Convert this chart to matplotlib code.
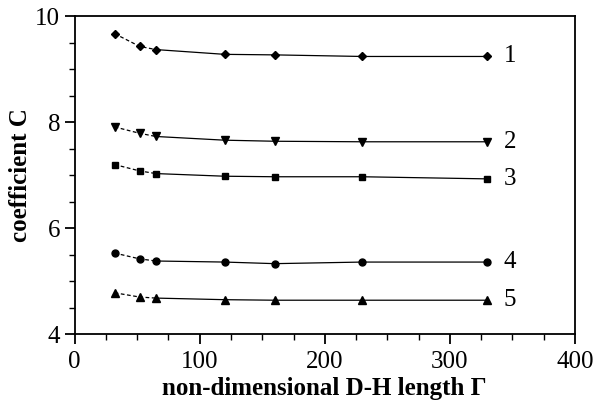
import matplotlib
matplotlib.use("Agg")
import matplotlib.pyplot as plt
from matplotlib.ticker import MultipleLocator

plt.rcParams["font.family"] = ["Liberation Serif", "DejaVu Serif"]

# data
gamma = [32, 52, 65, 120, 160, 230, 330]
c1 = [9.67, 9.43, 9.37, 9.28, 9.27, 9.24, 9.24]
c2 = [7.91, 7.79, 7.73, 7.66, 7.64, 7.63, 7.63]
c3 = [7.20, 7.08, 7.03, 6.98, 6.97, 6.97, 6.93]
c4 = [5.53, 5.42, 5.38, 5.36, 5.33, 5.36, 5.36]
c5 = [4.78, 4.70, 4.68, 4.65, 4.64, 4.64, 4.64]
series = [c1, c2, c3, c4, c5]
names = ["1", "2", "3", "4", "5"]
markers = ["D", "v", "s", "o", "^"]
msizes = [4.5, 6, 4, 5, 6]

fig = plt.figure(figsize=(5.97, 4.05), dpi=100)
ax = fig.add_axes([0.125, 0.175, 0.838, 0.785])

for y, name, m, ms in zip(series, names, markers, msizes):
    # first segments dashed, rest solid
    ax.plot(gamma[:3], y[:3], color="black", lw=0.9, ls=(0, (3, 2)))
    ax.plot(gamma[2:], y[2:], color="black", lw=0.9, ls="-")
    ax.plot(gamma, y, ls="none", marker=m, ms=ms, color="black")
    ax.text(gamma[-1] + 13, y[-1], name, fontsize=18, va="center", ha="left")

ax.set_xlim(0, 400)
ax.set_ylim(4, 10)
ax.xaxis.set_major_locator(MultipleLocator(100))
ax.xaxis.set_minor_locator(MultipleLocator(25))
ax.yaxis.set_major_locator(MultipleLocator(2))
ax.yaxis.set_minor_locator(MultipleLocator(0.5))
ax.tick_params(which="major", length=7, width=1.3, labelsize=18, direction="out")
ax.tick_params(which="minor", length=4, width=1.0, direction="out")
ax.tick_params(axis="x", pad=5)
for sp in ax.spines.values():
    sp.set_linewidth(1.3)

ax.set_xlabel("non-dimensional D-H length \u0393", fontsize=18, fontweight="bold", labelpad=3)
ax.set_ylabel("coefficient C", fontsize=18, fontweight="bold", labelpad=2)

fig.savefig("out.png", dpi=100)
